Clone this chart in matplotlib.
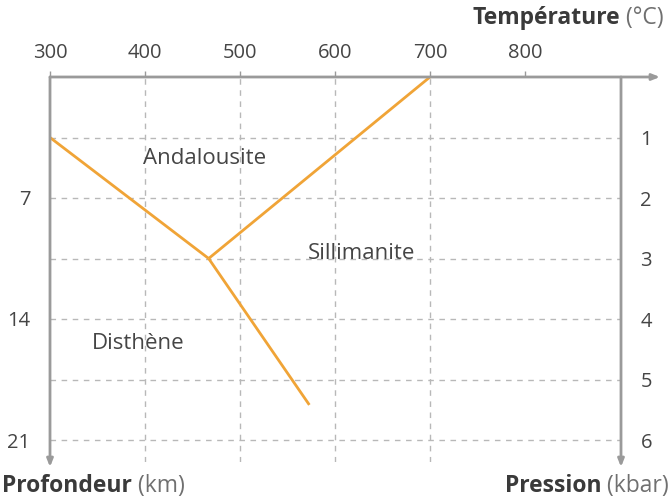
import matplotlib
matplotlib.use("Agg")
import matplotlib.pyplot as plt

# ---- data ----
temp_ticks = [300, 400, 500, 600, 700, 800]
grid_temps = [400, 500, 600, 700]
pressure_ticks = [1, 2, 3, 4, 5, 6]
depth_ticks = [7, 14, 21]
km_per_kbar = 3.5

# boundary lines (Température °C, Pression kbar)
and_dis_T = [300, 467]
and_dis_P = [1.0, 3.0]
and_sil_T = [467, 700]
and_sil_P = [3.0, 0.0]
dis_sil_T = [467, 573]
dis_sil_P = [3.0, 5.42]

labels = ["Andalousite", "Sillimanite", "Disthène"]
label_T = [463, 628, 393]
label_P = [1.34, 2.91, 4.40]

plt.rcParams['font.family'] = ['Open Sans', 'DejaVu Sans']
TXT = '#454545'
GRID = '#b8b8b8'
SPINE = '#9a9a9a'
ORANGE = '#f0a437'

W, H = 671, 498
fig = plt.figure(figsize=(W / 100, H / 100), dpi=100)
ax_l, ax_r, ax_t, ax_b = 50, 621, 77, 462
ax = fig.add_axes([ax_l / W, 1 - ax_b / H, (ax_r - ax_l) / W, (ax_b - ax_t) / H])
ax.set_xlim(300, 300 + (ax_r - ax_l) / 0.95)
ax.set_ylim((ax_b - ax_t) / 60.5, 0)

for s in ax.spines.values():
    s.set_visible(False)

# grid
for t in grid_temps:
    ax.axvline(t, color=GRID, lw=1, ls=(0, (4, 4)), zorder=1)
for p in pressure_ticks:
    ax.axhline(p, color=GRID, lw=1, ls=(0, (4, 4)), zorder=1)

# boundary lines
for T, P in [(and_dis_T, and_dis_P), (and_sil_T, and_sil_P), (dis_sil_T, dis_sil_P)]:
    ax.plot(T, P, color=ORANGE, lw=2, zorder=3, solid_capstyle='butt')

# region labels
for lab, t, p in zip(labels, label_T, label_P):
    ax.text(t, p, lab, ha='center', va='center', fontsize=16, color=TXT, zorder=4)

# axes lines with arrows
arrow = dict(arrowstyle='-|>,head_length=0.45,head_width=0.18', color=SPINE, lw=2, shrinkA=0, shrinkB=0)
xr_end = (660 - ax_l) / (ax_r - ax_l)
yb_end = (ax_b - 467) / (ax_b - ax_t)
ax.annotate('', xy=(xr_end, 1), xytext=(0, 1), xycoords='axes fraction', arrowprops=arrow, annotation_clip=False)
ax.annotate('', xy=(0, yb_end), xytext=(0, 1), xycoords='axes fraction', arrowprops=arrow, annotation_clip=False)
ax.annotate('', xy=(1, yb_end), xytext=(1, 1), xycoords='axes fraction', arrowprops=arrow, annotation_clip=False)

# top temperature axis
ax.xaxis.tick_top()
ax.set_xticks(temp_ticks)
ax.set_xticklabels([str(t) for t in temp_ticks])
ax.tick_params(axis='x', length=4, width=1, color=SPINE, labelsize=14.5, labelcolor=TXT, pad=6)

# right pressure axis
ax.yaxis.tick_right()
ax.set_yticks(pressure_ticks)
ax.set_yticklabels([str(p) for p in pressure_ticks])
ax.tick_params(axis='y', length=0, labelsize=14.5, labelcolor=TXT, pad=14)

# left depth axis
sec = ax.secondary_yaxis('left', functions=(lambda p: p * km_per_kbar, lambda d: d / km_per_kbar))
sec.set_yticks(depth_ticks)
sec.set_yticklabels([str(d) for d in depth_ticks])
sec.tick_params(axis='y', length=0, labelsize=14.5, labelcolor=TXT, pad=14)
for s in sec.spines.values():
    s.set_visible(False)

# axis titles (bold word + normal unit)
def two_part(x_px, y_px, bold, normal, align):
    y = 1 - y_px / H
    fig.canvas.draw()
    r = fig.canvas.get_renderer()
    tb = fig.text(0, y, bold, fontsize=16.5, fontweight='bold', color='#3a3a3a', va='center')
    tn = fig.text(0, y, ' ' + normal, fontsize=16.5, color='#707070', va='center')
    wb = tb.get_window_extent(r).width
    wn = tn.get_window_extent(r).width
    if align == 'left':
        x0 = x_px
    else:
        x0 = x_px - wb - wn
    tb.set_x(x0 / W)
    tn.set_x((x0 + wb) / W)

two_part(664, 18, 'Température', '(°C)', 'right')
two_part(2, 486, 'Profondeur', '(km)', 'left')
two_part(669, 486, 'Pression', '(kbar)', 'right')

fig.savefig('out.png', dpi=100, facecolor='white')
